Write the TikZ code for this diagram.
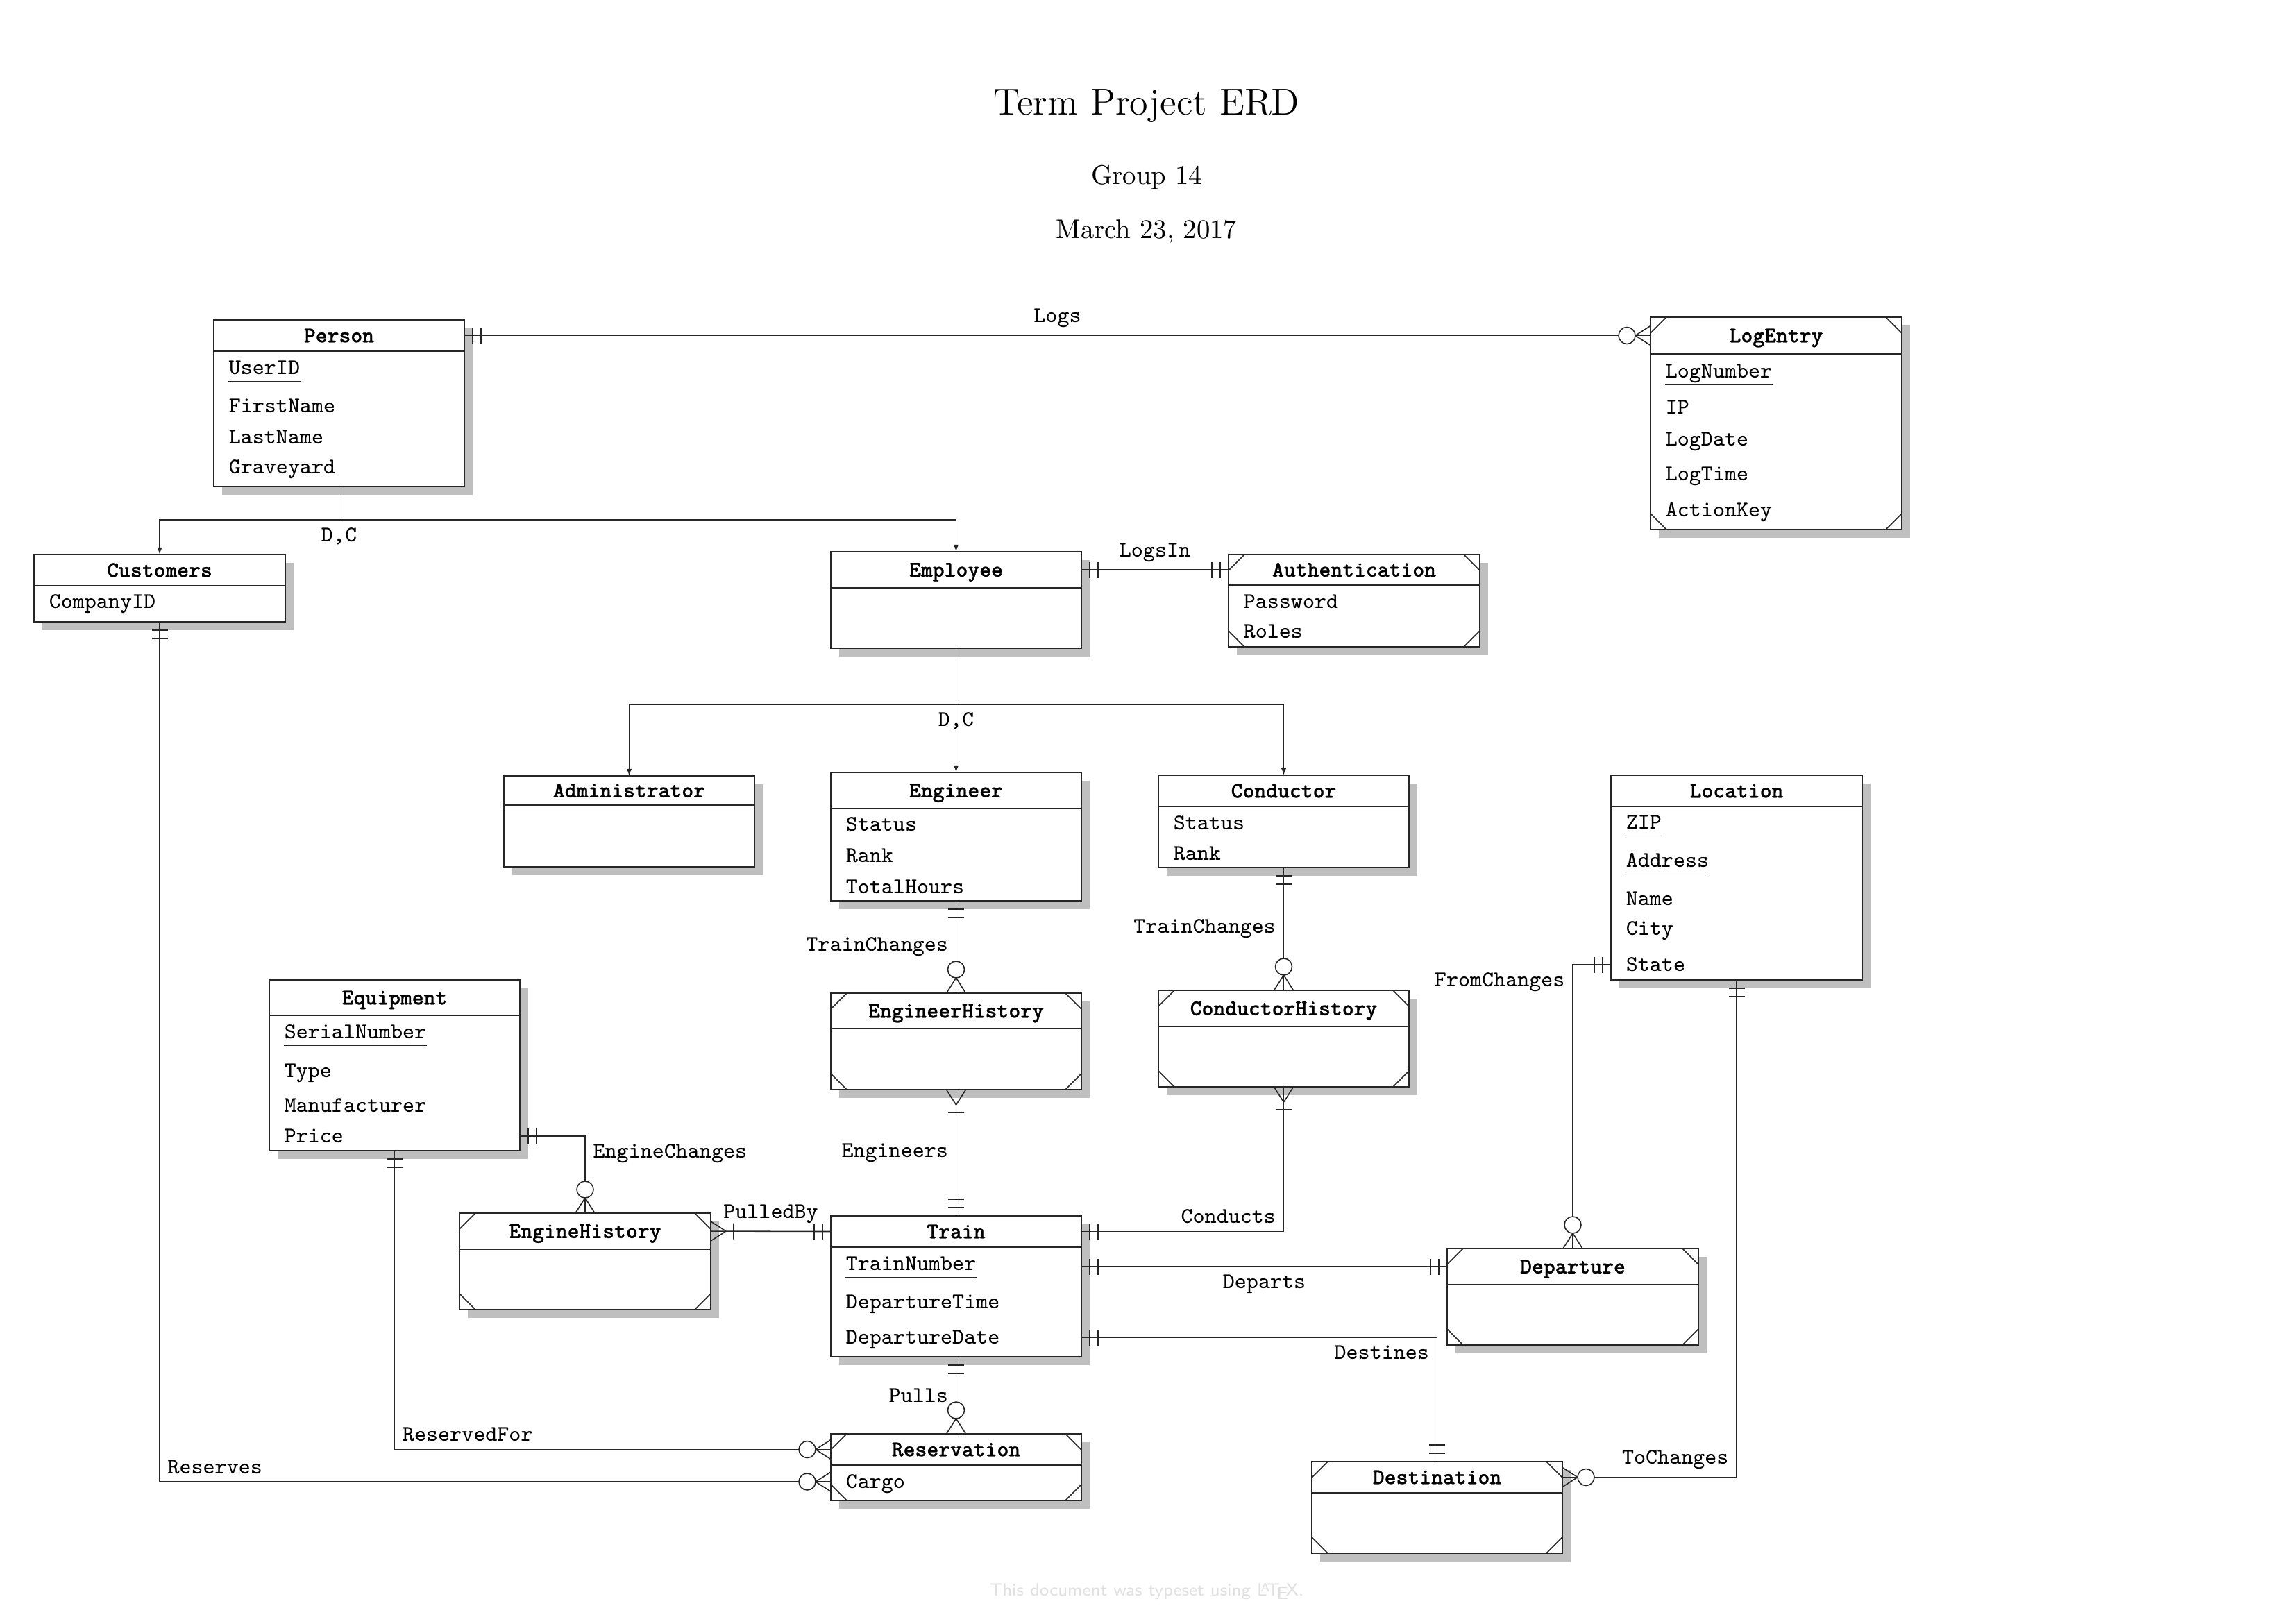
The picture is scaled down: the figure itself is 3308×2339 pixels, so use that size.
\documentclass[tikz,border=0pt]{standalone}
\usepackage{fontspec}
\usetikzlibrary{arrows.meta}
\newfontfamily\erbf{lmmonolt10-bold.otf}[FakeBold=0.8]
\colorlet{lc}{black!85}
\colorlet{shc}{black!25}
\newcommand\erEnt[7]{%
  \fill[shc] (#2+12,#3+12) rectangle (#4+12,#6+12);
  \node[etitle, minimum width={(#4-#2)*0.25545pt}, minimum height={(#5-#3)*0.25545pt}] (#1) at (#2,#3) {#7};
  \node[ebody, minimum width={(#4-#2)*0.25545pt}, minimum height={(#6-#5)*0.25545pt}] (#1-b) at (#1.south west) {};
}
\newcommand\erWeak[1]{%
  \draw[lc, line width=0.4pt] ([shift={(0,23)}]#1.north west) -- ([shift={(23,0)}]#1.north west)
    ([shift={(-23,0)}]#1.north east) -- ([shift={(0,23)}]#1.north east)
    ([shift={(0,-23)}]#1-b.south west) -- ([shift={(23,0)}]#1-b.south west)
    ([shift={(-23,0)}]#1-b.south east) -- ([shift={(0,-23)}]#1-b.south east);
}
\newcommand\erKey[1]{%
  \draw[lc, line width=0.4pt] ([yshift=-2.3pt]#1.south west) -- ([yshift=-2.3pt]#1.south east);
}
\newcommand\erOneOne[2]{%
  \begin{scope}[shift={#1},rotate=#2]
    \draw[lc, line width=0.4pt] (12,-11.5) -- (12,11.5) (24,-11.5) -- (24,11.5);
  \end{scope}}
\newcommand\erOneMany[2]{%
  \begin{scope}[shift={#1},rotate=#2]
    \draw[lc, line width=0.4pt] (22,0) -- (0,14) (22,0) -- (0,-14) (33,-11.5) -- (33,11.5);
  \end{scope}}
\newcommand\erZeroMany[2]{%
  \begin{scope}[shift={#1},rotate=#2]
    \draw[lc, line width=0.4pt] (22,0) -- (0,14) (22,0) -- (0,-14);
    \draw[lc, line width=0.4pt, fill=white] (34,0) circle[radius=12];
  \end{scope}}
\begin{document}
\begin{tikzpicture}[x=0.25545pt, y=-0.25545pt,
  etitle/.style={draw=lc, fill=white, line width=0.4pt, anchor=north west, inner sep=0pt, outer sep=0pt,
    font=\fontsize{8.2}{10}\selectfont\erbf, text height=5pt, text depth=0pt},
  ebody/.style={draw=lc, fill=white, line width=0.4pt, anchor=north west, inner sep=0pt, outer sep=0pt},
  attr/.style={anchor=west, inner sep=0pt, font=\fontsize{8.2}{10}\selectfont\ttfamily, text height=5pt, text depth=0pt},
  lbl/.style={inner sep=2.75pt, font=\fontsize{8.2}{10}\selectfont\ttfamily},
  conn/.style={draw=lc, line width=0.4pt},
  isa/.style={conn, -{Latex[length=2.6pt,width=1.9pt]}},
]
\fill[white] (0,0) rectangle (3308,2339);
\useasboundingbox (0,0) rectangle (3308,2339);

% header
\node[font=\fontsize{13.8}{16}\selectfont, anchor=base] (title) at (1652,165) {Term Project ERD};
\node[font=\fontsize{9.9}{12}\selectfont, anchor=base] (group) at (1652,265) {Group 14};
\node[font=\fontsize{9.9}{12}\selectfont, anchor=base] (date) at (1652,343) {March 23, 2017};
\node[font=\sffamily\fontsize{6.5}{8}\selectfont, text=black!12] (footer) at (1652,2293) {This document was typeset using \LaTeX.};

% entities
\erEnt{person}{308}{461}{669}{506}{701}{Person}
\node[attr] (p-uid) at (329,530) {UserID}; \erKey{p-uid}
\node[attr] (p-fn) at (329,585) {FirstName};
\node[attr] (p-ln) at (329,630) {LastName};
\node[attr] (p-gy) at (329,673) {Graveyard};

\erEnt{logentry}{2378}{457}{2740}{510}{763}{LogEntry}
\erWeak{logentry}
\node[attr] (le-num) at (2399,535) {LogNumber}; \erKey{le-num}
\node[attr] (le-ip) at (2399,587) {IP};
\node[attr] (le-date) at (2399,633) {LogDate};
\node[attr] (le-time) at (2399,683) {LogTime};
\node[attr] (le-key) at (2399,735) {ActionKey};

\erEnt{customers}{49}{799}{411}{844}{896}{Customers}
\node[attr] (cu-id) at (70,867) {CompanyID};

\erEnt{employee}{1197}{795}{1558}{847}{934}{Employee}

\erEnt{auth}{1770}{799}{2132}{843}{932}{Authentication}
\erWeak{auth}
\node[attr] (au-pw) at (1791,867) {Password};
\node[attr] (au-ro) at (1791,910) {Roles};

\erEnt{admin}{726}{1118}{1087}{1160}{1249}{Administrator}

\erEnt{engineer}{1197}{1113}{1558}{1165}{1298}{Engineer}
\node[attr] (en-st) at (1218,1188) {Status};
\node[attr] (en-rk) at (1218,1233) {Rank};
\node[attr] (en-th) at (1218,1278) {TotalHours};

\erEnt{conductor}{1669}{1117}{2030}{1162}{1250}{Conductor}
\node[attr] (co-st) at (1690,1186) {Status};
\node[attr] (co-rk) at (1690,1230) {Rank};

\erEnt{location}{2321}{1117}{2683}{1162}{1412}{Location}
\node[attr] (lo-zip) at (2342,1185) {ZIP}; \erKey{lo-zip}
\node[attr] (lo-ad) at (2342,1240) {Address}; \erKey{lo-ad}
\node[attr] (lo-nm) at (2342,1295) {Name};
\node[attr] (lo-ci) at (2342,1338) {City};
\node[attr] (lo-st) at (2342,1390) {State};

\erEnt{equipment}{388}{1412}{749}{1463}{1658}{Equipment}
\node[attr] (eq-sn) at (409,1487) {SerialNumber}; \erKey{eq-sn}
\node[attr] (eq-ty) at (409,1543) {Type};
\node[attr] (eq-mf) at (409,1593) {Manufacturer};
\node[attr] (eq-pr) at (409,1637) {Price};

\erEnt{engrhist}{1197}{1431}{1558}{1482}{1570}{EngineerHistory}
\erWeak{engrhist}

\erEnt{condhist}{1669}{1427}{2030}{1479}{1566}{ConductorHistory}
\erWeak{condhist}

\erEnt{enghist}{662}{1748}{1024}{1800}{1887}{EngineHistory}
\erWeak{enghist}

\erEnt{train}{1197}{1752}{1558}{1797}{1955}{Train}
\node[attr] (tr-num) at (1218,1821) {TrainNumber}; \erKey{tr-num}
\node[attr] (tr-dt) at (1218,1876) {DepartureTime};
\node[attr] (tr-dd) at (1218,1927) {DepartureDate};

\erEnt{departure}{2085}{1799}{2447}{1851}{1938}{Departure}
\erWeak{departure}

\erEnt{reservation}{1197}{2066}{1558}{2111}{2162}{Reservation}
\erWeak{reservation}
\node[attr] (rs-cg) at (1218,2135) {Cargo};

\erEnt{destination}{1890}{2106}{2251}{2151}{2238}{Destination}
\erWeak{destination}

% generalisations
\path (person-b.south) ++(0,48) coordinate (isa1);
\draw[conn] (person-b.south) -- (isa1);
\draw[isa] (isa1) -| (customers.north);
\draw[isa] (isa1) -| (employee.north);
\node[lbl, below] (dc1) at (isa1) {D,C};

\path (employee-b.south) ++(0,81) coordinate (isa2);
\draw[conn] (employee-b.south) -- (isa2);
\draw[isa] (isa2) -| (admin.north);
\draw[isa] (isa2) -- (engineer.north);
\draw[isa] (isa2) -| (conductor.north);
\node[lbl, below] (dc2) at (isa2) {D,C};

% relationships
\draw[conn] (person.east) -- node[lbl, above] (l-logs) {Logs} (logentry.west);
\erOneOne{(person.east)}{0} \erZeroMany{(logentry.west)}{180}

\draw[conn] (employee.east) -- node[lbl, above] (l-logsin) {LogsIn} (auth.west);
\erOneOne{(employee.east)}{0} \erOneOne{(auth.west)}{180}

\draw[conn] (engineer-b.south) -- node[lbl, left] (l-tc1) {TrainChanges} (engrhist.north);
\erOneOne{(engineer-b.south)}{270} \erZeroMany{(engrhist.north)}{90}

\draw[conn] (conductor-b.south) -- node[lbl, left] (l-tc2) {TrainChanges} (condhist.north);
\erOneOne{(conductor-b.south)}{270} \erZeroMany{(condhist.north)}{90}

\draw[conn] (engrhist-b.south) -- node[lbl, left] (l-eng) {Engineers} (train.north);
\erOneMany{(engrhist-b.south)}{270} \erOneOne{(train.north)}{90}

\draw[conn] (condhist-b.south) |- node[lbl, above left, pos=0.5] (l-cond) {Conducts} (train.east);
\erOneMany{(condhist-b.south)}{270} \erOneOne{(train.east)}{0}

\draw[conn] (eq-pr -| equipment-b.east) -| node[lbl, below right, pos=0.5] (l-ec) {EngineChanges} (enghist.north);
\erOneOne{(eq-pr -| equipment-b.east)}{0} \erZeroMany{(enghist.north)}{90}

\draw[conn] (enghist.east) -- node[lbl, above] (l-pb) {PulledBy} (train.west);
\erOneMany{(enghist.east)}{0} \erOneOne{(train.west)}{180}

\draw[conn] (departure.west -| train-b.east) -- node[lbl, below] (l-dep) {Departs} (departure.west);
\erOneOne{(departure.west -| train-b.east)}{0} \erOneOne{(departure.west)}{180}

\draw[conn] (tr-dd -| train-b.east) -| node[lbl, below left, pos=0.5] (l-dest) {Destines} (destination.north);
\erOneOne{(tr-dd -| train-b.east)}{0} \erOneOne{(destination.north)}{90}

\draw[conn] (lo-st -| location-b.west) -| node[lbl, below left, pos=0.5] (l-fc) {FromChanges} (departure.north);
\erOneOne{(lo-st -| location-b.west)}{180} \erZeroMany{(departure.north)}{90}

\draw[conn] (destination.east) -| node[lbl, above left, pos=0.5] (l-tc) {ToChanges} (location-b.south);
\erZeroMany{(destination.east)}{0} \erOneOne{(location-b.south)}{270}

\draw[conn] (train-b.south) -- node[lbl, left] (l-pulls) {Pulls} (reservation.north);
\erOneOne{(train-b.south)}{270} \erZeroMany{(reservation.north)}{90}

\draw[conn] (equipment-b.south) |- node[lbl, above right, pos=0.5] (l-rf) {ReservedFor} (reservation.west);
\erOneOne{(equipment-b.south)}{270} \erZeroMany{(reservation.west)}{180}

\draw[conn] (customers-b.south) |- node[lbl, above right, pos=0.5] (l-res) {Reserves} (rs-cg -| reservation-b.west);
\erOneOne{(customers-b.south)}{270} \erZeroMany{(rs-cg -| reservation-b.west)}{180}
\end{tikzpicture}
\end{document}
